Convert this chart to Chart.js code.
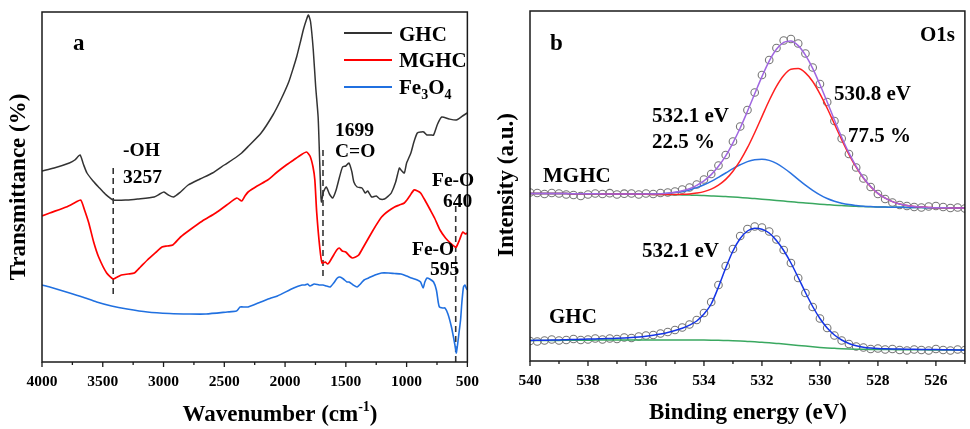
<!DOCTYPE html>
<html><head><meta charset="utf-8">
<script src="https://cdn.jsdelivr.net/npm/chart.js@4.4.0/dist/chart.umd.min.js"></script>
<style>
html,body{margin:0;padding:0;background:#fff;width:970px;height:429px;overflow:hidden}
canvas{position:absolute;top:0}
#ca{left:0}
#cb{left:490px}
</style></head><body>
<canvas id="ca" width="490" height="429"></canvas>
<canvas id="cb" width="480" height="429"></canvas>
<script>
// ---------- Panel a: FTIR ----------
const ghcWn = [4000,3900,3775,3730,3687,3660,3630,3580,3535,3480,3414,3300,3213,3077,3030,2997,2960,2917,2860,2797,2700,2597,2500,2400,2357,2300,2197,2100,2036,1970,1930,1905,1870,1848,1825,1808,1790,1768,1748,1728,1715,1705,1700,1685,1661,1635,1608,1580,1554,1527,1500,1474,1450,1434,1407,1367,1340,1320,1287,1250,1220,1182,1150,1126,1090,1060,1046,1019,1000,965,940,912,880,859,832,800,778,745,711,650,591,540,502];
const ghcT  = [191,194,199,202,207,198,189,181,175,168,162,162,163,165,168,170,167,165,170,177,183,189,197,205,209,216,229,247,262,280,295,305,322,333,342,347,340,312,275,245,200,165,160,170,175,168,164,172,184,195,196,199,190,180,175,174,169,171,165,166,163,163,166,169,180,194,192,189,199,209,220,229,230,230,227,227,227,238,245,243,242,246,249];
const mghcWn = [4000,3936,3800,3720,3681,3650,3615,3575,3534,3468,3414,3380,3347,3290,3240,3190,3133,3060,3013,2970,2924,2860,2785,2680,2571,2480,2397,2357,2330,2304,2230,2143,2065,1990,1930,1870,1824,1795,1770,1755,1740,1715,1696,1670,1650,1634,1600,1575,1554,1530,1501,1470,1447,1420,1394,1360,1313,1260,1206,1150,1099,1060,1019,980,939,910,885,850,805,770,725,680,640,600,591,565,538,515,502];
const mghcT  = [146,149,155,160,162,152,139,120,105,89,83,85,87,88,89,95,102,110,115,116,117,125,132,141,149,157,164,161,166,170,176,182,190,197,202,207,210,206,195,182,150,115,99,100,98,100,107,112,114,111,110,106,104,105,107,114,124,135,145,151,155,157,159,165,172,171,169,162,152,144,132,124,119,115,115,122,130,128,129];
const fe3o4Wn = [4000,3936,3800,3668,3550,3428,3300,3133,2950,2785,2650,2477,2400,2384,2370,2330,2304,2200,2116,2063,1929,1860,1835,1815,1795,1760,1720,1688,1660,1629,1600,1570,1549,1520,1490,1474,1440,1407,1380,1350,1313,1260,1206,1150,1100,1046,1000,960,912,885,864,850,832,810,778,755,740,730,700,684,660,631,610,595,591,580,566,556,545,532,520,510,502];
const fe3o4T  = [77,75,70,65,60,56,53,50,48.5,48,48,50,51,53,55,55,55,60,64,66,74,77,77,78,76,78,77,77,76,75,79,84,85,83,80,80,77,75,78,82,84,87,89,89,88.5,88,86,84,82,80,74,80,84,83,80,72,60,55,54,54,48,35,22,12,9,18,32,42,60,75,77,74,72];
const markerWn   = [3414,1688,596];
const markerLow  = [68,86,0];
const markerHigh = [196,215,157];
const aMajorTicks = [4000,3500,3000,2500,2000,1500,1000,500];
const aMinorTicks = [3750,3250,2750,2250,1750,1250,750];

// ---------- Panel b: XPS O1s ----------
const beGrid = [540,539.75,539.5,539.25,539,538.75,538.5,538.25,538,537.75,537.5,537.25,537,536.75,536.5,536.25,536,535.75,535.5,535.25,535,534.75,534.5,534.25,534,533.75,533.5,533.25,533,532.75,532.5,532.25,532,531.75,531.5,531.25,531,530.75,530.5,530.25,530,529.75,529.5,529.25,529,528.75,528.5,528.25,528,527.75,527.5,527.25,527,526.75,526.5,526.25,526,525.75,525.5,525.25,525];
const mghcBg = [166.5,166.5,166.5,166.5,166.4,166.4,166.3,166.3,166.2,166.2,166.1,166.1,166.0,166.0,165.9,165.8,165.7,165.6,165.5,165.4,165.3,165.1,164.9,164.7,164.4,164.1,163.8,163.4,163.0,162.5,162.0,161.4,160.8,160.2,159.6,158.9,158.3,157.6,157.0,156.4,155.8,155.3,154.8,154.4,154.0,153.7,153.4,153.2,153.0,152.9,152.8,152.7,152.6,152.5,152.4,152.3,152.2,152.2,152.1,152.1,152.0];
const mghcPeak5308 = [166.5,166.5,166.5,166.5,166.4,166.4,166.3,166.3,166.2,166.2,166.1,166.1,166.0,166.0,165.9,165.8,165.7,165.6,165.5,165.5,165.6,165.7,166.1,167.0,168.4,170.9,174.9,180.6,188.8,199.3,212.3,227.3,243.4,259.5,273.7,284.6,290.8,291.4,287.1,278.5,266.2,251.8,236.0,220.4,205.7,192.8,181.9,173.3,166.6,161.8,158.4,156.1,154.6,153.6,153.0,152.6,152.2,152.2,152.1,152.1,152.0];
const mghcPeak5321 = [166.5,166.5,166.5,166.5,166.4,166.4,166.3,166.3,166.2,166.2,166.1,166.1,166.0,166.0,165.9,165.9,165.9,166.0,166.3,166.7,167.5,168.6,170.1,172.4,175.2,178.6,182.7,187.0,191.4,195.2,198.4,200.3,200.8,199.6,196.6,192.0,186.6,180.6,174.8,169.6,165.1,161.5,158.8,156.8,155.4,154.5,153.8,153.4,153.0,152.9,152.8,152.7,152.6,152.5,152.4,152.3,152.2,152.2,152.1,152.1,152.0];
const mghcFit = [166.5,166.5,166.5,166.5,166.4,166.4,166.3,166.3,166.2,166.2,166.1,166.1,166.0,166.0,165.9,165.9,165.9,166.0,166.3,166.8,167.8,169.2,171.3,174.7,179.2,185.4,193.8,204.2,217.2,232.0,248.7,266.2,283.4,298.9,310.7,317.7,319.1,314.4,304.9,291.7,275.5,258.0,240.0,222.8,207.1,193.6,182.3,173.5,166.6,161.8,158.4,156.1,154.6,153.6,153.0,152.6,152.2,152.2,152.1,152.1,152.0];
const mghcRaw = [167.5,167.0,166.0,167.0,166.5,165.5,165.0,164.0,165.5,166.5,166.0,166.8,165.5,166.3,166.5,165.5,166.5,166.0,167.0,167.5,168.5,170.5,172.5,175.5,180.5,186.0,194.5,205.0,218.5,233.5,250.0,267.5,285.0,300.0,312.0,319.5,321.0,316.5,306.5,292.5,276.0,258.0,239.0,221.5,206.0,192.5,181.5,173.0,166.0,161.0,157.5,155.0,154.0,153.0,152.5,153.5,154.0,153.0,152.0,152.5,151.5];
const ghcBg = [19.4,19.5,19.5,19.6,19.6,19.7,19.7,19.8,19.8,19.9,19.9,20.0,20.0,20.0,20.0,20.0,20.0,20.0,20.0,20.0,20.0,20.0,20.0,20.0,19.9,19.8,19.7,19.5,19.3,19.0,18.6,18.2,17.7,17.2,16.6,16.0,15.3,14.6,13.9,13.2,12.6,12.1,11.7,11.3,11.0,10.8,10.7,10.6,10.5,10.4,10.4,10.3,10.3,10.2,10.2,10.1,10.1,10.1,10.0,10.0,10.0];
const ghcFit = [19.6,19.7,19.8,19.9,20.1,20.3,20.5,20.7,20.9,21.1,21.3,21.5,21.7,22.0,22.4,23.0,23.8,24.8,26.0,27.6,29.5,31.8,34.8,39.0,46.0,56.0,73.0,92.0,109.0,121.5,129.0,131.7,130.8,127.0,119.5,109.5,97.0,82.5,67.5,53.5,41.5,32.0,25.0,20.0,16.5,14.2,12.8,12.0,11.5,11.2,11.0,10.9,10.8,10.7,10.6,10.5,10.4,10.3,10.2,10.1,10.0];
const ghcRaw = [19.0,18.5,19.5,20.5,19.5,20.0,21.0,20.0,20.5,21.5,20.5,21.5,21.0,22.5,22.0,23.5,24.5,25.0,26.5,28.0,30.0,32.5,35.5,40.0,47.0,58.0,75.0,94.0,111.0,124.0,131.0,133.5,132.5,128.5,120.5,110.0,97.0,82.0,67.0,53.0,41.5,32.0,24.5,19.5,16.0,13.5,12.5,11.0,11.5,10.5,11.0,10.0,9.5,10.5,10.0,9.5,11.0,10.0,9.5,10.5,10.0];
const bMajorTicks = [526,528,530,532,534,536,538,540];
const bMinorTicks = [525,527,529,531,533,535,537,539];

// ---------- helpers ----------
const SERIF = '"Liberation Serif","Times New Roman",serif';
const xy = (xs, ys) => xs.map((x, i) => ({x, y: ys[i]}));
function font(size){ return `bold ${size}px ${SERIF}`; }
function text(ctx, s, x, y, size, align){
  ctx.font = font(size); ctx.fillStyle = '#000';
  ctx.textAlign = align || 'left'; ctx.textBaseline = 'alphabetic';
  ctx.fillText(s, x, y);
}
function parts(ctx, list, x, y, align){
  let w = 0;
  list.forEach(p => { ctx.font = font(p.s); w += ctx.measureText(p.t).width; });
  let cx = align === 'center' ? x - w / 2 : x;
  ctx.fillStyle = '#000'; ctx.textAlign = 'left'; ctx.textBaseline = 'alphabetic';
  list.forEach(p => { ctx.font = font(p.s); ctx.fillText(p.t, cx, y + (p.dy || 0)); cx += ctx.measureText(p.t).width; });
}
function vtext(ctx, s, x, y, size){
  ctx.save(); ctx.translate(x, y); ctx.rotate(-Math.PI / 2);
  ctx.font = font(size); ctx.fillStyle = '#000'; ctx.textAlign = 'center'; ctx.textBaseline = 'middle';
  ctx.fillText(s, 0, 0); ctx.restore();
}
function frameAndTicks(chart, major, minor){
  const {ctx, chartArea: a} = chart; const xs = chart.scales.x;
  ctx.save();
  ctx.strokeStyle = '#1a1a1a'; ctx.lineWidth = 1.5;
  ctx.strokeRect(a.left, a.top, a.right - a.left, a.bottom - a.top);
  ctx.lineWidth = 1.3;
  ctx.beginPath();
  major.forEach(v => { const p = xs.getPixelForValue(v); ctx.moveTo(p, a.bottom); ctx.lineTo(p, a.bottom + 5); });
  minor.forEach(v => { const p = xs.getPixelForValue(v); ctx.moveTo(p, a.bottom); ctx.lineTo(p, a.bottom + 3); });
  ctx.stroke();
  ctx.restore();
}

const tickFont = {family: SERIF, size: 15.5, weight: 'bold'};
const lineDs = (data, color, extra) => Object.assign({data, borderColor: color, backgroundColor: color, borderWidth: 1.5, pointRadius: 0, showLine: true, fill: false}, extra || {});

// ---------- chart a ----------
const decorA = {
  id: 'decorA',
  afterDraw(chart){
    const ctx = chart.ctx;
    frameAndTicks(chart, aMajorTicks, aMinorTicks);
    const leg = [['#333333', 33, 'GHC'], ['#ff0000', 60, 'MGHC'], ['#2070e0', 87, null]];
    ctx.save(); ctx.lineWidth = 2;
    leg.forEach(l => { ctx.strokeStyle = l[0]; ctx.beginPath(); ctx.moveTo(344, l[1]); ctx.lineTo(392, l[1]); ctx.stroke(); });
    ctx.restore();
    text(ctx, 'GHC', 399, 40.5, 21);
    text(ctx, 'MGHC', 399, 67, 21);
    parts(ctx, [{t:'Fe', s:21}, {t:'3', s:14, dy:5}, {t:'O', s:21}, {t:'4', s:14, dy:5}], 399, 94, 'left');
    text(ctx, 'a', 73, 50, 23);
    text(ctx, '-OH', 123, 155.5, 19.5);
    text(ctx, '3257', 123, 183, 19.5);
    text(ctx, '1699', 335, 136, 19.5);
    text(ctx, 'C=O', 335, 157, 19.5);
    text(ctx, 'Fe-O', 432, 186, 19.5);
    text(ctx, '640', 443, 207, 19.5);
    text(ctx, 'Fe-O', 412, 255, 19.5);
    text(ctx, '595', 430, 275, 19.5);
    parts(ctx, [{t:'Wavenumber (cm', s:23}, {t:'-1', s:14, dy:-10}, {t:')', s:23}], 280, 421, 'center');
    vtext(ctx, 'Transmittance (%)', 19.5, 187, 23);
  }
};

const dsA = [
  lineDs(xy(ghcWn, ghcT), '#333333', {tension: 0.2}),
  lineDs(xy(mghcWn, mghcT), '#ff0000', {tension: 0.2, borderWidth: 1.7}),
  lineDs(xy(fe3o4Wn, fe3o4T), '#2070e0', {tension: 0.2, borderWidth: 1.6})
];
markerWn.forEach((w, i) => dsA.push(lineDs([{x: w, y: markerLow[i]}, {x: w, y: markerHigh[i]}], '#333333', {borderDash: [6, 4], borderWidth: 1.6})));

new Chart(document.getElementById('ca'), {
  type: 'scatter',
  data: {datasets: dsA},
  options: {
    responsive: false, animation: false, devicePixelRatio: 1,
    layout: {padding: {left: 42, right: 12, top: 12, bottom: 0}},
    plugins: {legend: {display: false}, tooltip: {enabled: false}},
    scales: {
      x: {type: 'linear', min: 500, max: 4000, reverse: true,
          afterFit(s){ s.height = 67; },
          ticks: {stepSize: 500, font: tickFont, color: '#000', padding: 11, maxRotation: 0, autoSkip: false, callback: v => String(v)},
          grid: {display: false, drawTicks: false}, border: {display: false}},
      y: {type: 'linear', display: false, min: 0, max: 350}
    }
  },
  plugins: [decorA]
});

// ---------- chart b ----------
const decorB = {
  id: 'decorB',
  afterDraw(chart){
    const ctx = chart.ctx;
    frameAndTicks(chart, bMajorTicks, bMinorTicks);
    text(ctx, 'b', 60, 50, 23);
    text(ctx, 'O1s', 430, 41, 21);
    text(ctx, '532.1 eV', 162, 121.5, 21);
    text(ctx, '22.5 %', 162, 148, 21);
    text(ctx, '530.8 eV', 344, 100, 21);
    text(ctx, '77.5 %', 358, 141.5, 21);
    text(ctx, 'MGHC', 53, 181.5, 21);
    text(ctx, '532.1 eV', 152, 256.5, 21);
    text(ctx, 'GHC', 59, 323, 21);
    text(ctx, 'Binding energy (eV)', 258, 419, 23, 'center');
    vtext(ctx, 'Intensity (a.u.)', 17.5, 185, 23);
  }
};

const mono = {cubicInterpolationMode: 'monotone'};
const rawDs = (data) => ({data, showLine: false, pointRadius: 3.8, pointBorderWidth: 1.1, borderColor: '#777777', backgroundColor: 'rgba(255,255,255,0)', pointStyle: 'circle'});

new Chart(document.getElementById('cb'), {
  type: 'scatter',
  data: {datasets: [
    lineDs(xy(beGrid, mghcFit), '#a066e0', mono),
    lineDs(xy(beGrid, mghcPeak5308), '#ff2020', mono),
    lineDs(xy(beGrid, mghcPeak5321), '#2a72e0', mono),
    lineDs(xy(beGrid, mghcBg), '#3aa860', mono),
    lineDs(xy(beGrid, ghcFit), '#1434e6', mono),
    lineDs(xy(beGrid, ghcBg), '#3aa860', mono),
    rawDs(xy(beGrid, mghcRaw)),
    rawDs(xy(beGrid, ghcRaw))
  ]},
  options: {
    responsive: false, animation: false, devicePixelRatio: 1,
    layout: {padding: {left: 40, right: 4, top: 11, bottom: 0}},
    plugins: {legend: {display: false}, tooltip: {enabled: false}},
    scales: {
      x: {type: 'linear', min: 525, max: 540, reverse: true,
          afterBuildTicks(s){ s.ticks = bMajorTicks.map(v => ({value: v})); },
          afterFit(s){ s.height = 68; },
          ticks: {font: tickFont, color: '#000', padding: 11, maxRotation: 0, autoSkip: false, callback: v => String(v)},
          grid: {display: false, drawTicks: false}, border: {display: false}},
      y: {type: 'linear', display: false, min: -1, max: 349}
    }
  },
  plugins: [decorB]
});
</script>
</body></html>
